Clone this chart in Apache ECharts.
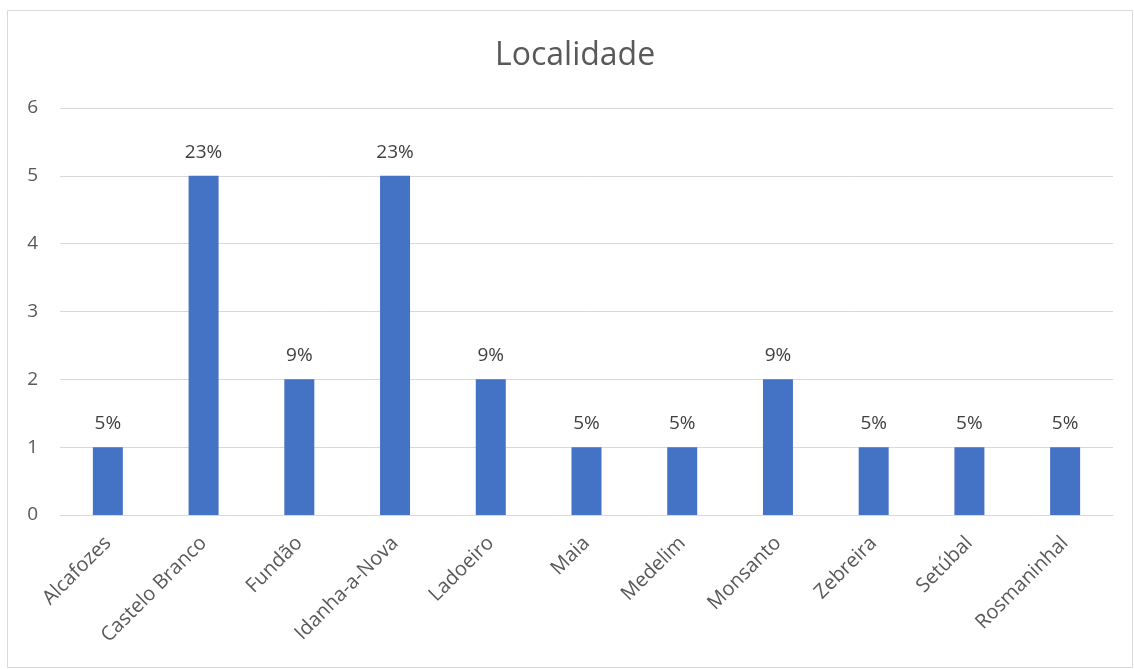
<!DOCTYPE html>
<html><head><meta charset="utf-8">
<script src="https://cdn.jsdelivr.net/npm/echarts@6/dist/echarts.min.js"></script>
<style>html,body{margin:0;padding:0;background:#fff}#c{width:1134px;height:669px}</style>
</head><body><div id="c"></div>
<script>
const categories = ["Alcafozes","Castelo Branco","Fundão","Idanha-a-Nova","Ladoeiro","Maia","Medelim","Monsanto","Zebreira","Setúbal","Rosmaninhal"];
const values = [1,5,2,5,2,1,1,2,1,1,1];
const percentLabels = ["5%","23%","9%","23%","9%","5%","5%","9%","5%","5%","5%"];
const yTicks = [0,1,2,3,4,5,6];

const font = "'Open Sans', sans-serif";
const chart = echarts.init(document.getElementById('c'));
chart.setOption({
  animation:false,
  title:{text:"Localidade",left:490,top:35,textStyle:{fontFamily:font,fontSize:32,fontWeight:'normal',color:'#595959'}},
  graphic:[{type:'rect',shape:{x:7.5,y:10.5,width:1125,height:657},style:{fill:'none',stroke:'#d9d9d9',lineWidth:1},silent:true}],
  grid:{left:60,right:21,top:108,bottom:154,containLabel:false},
  xAxis:{type:'category',data:categories,
    axisLine:{lineStyle:{color:'#d9d9d9',width:1}},axisTick:{show:false},
    axisLabel:{rotate:45,interval:0,margin:25,fontFamily:font,fontSize:20,color:'#595959'}},
  yAxis:{type:'value',min:yTicks[0],max:yTicks[yTicks.length-1],interval:1,
    axisLine:{show:false},axisTick:{show:false},
    splitLine:{lineStyle:{color:'#d9d9d9',width:1}},
    axisLabel:{margin:22,fontFamily:font,fontSize:19,color:'#595959'}},
  series:[{type:'bar',data:values,barWidth:30,itemStyle:{color:'#4472C4'},
    label:{show:true,position:'top',distance:14,fontFamily:font,fontSize:19,color:'#404040',
      formatter:p=>percentLabels[p.dataIndex]}}]
});
</script></body></html>
